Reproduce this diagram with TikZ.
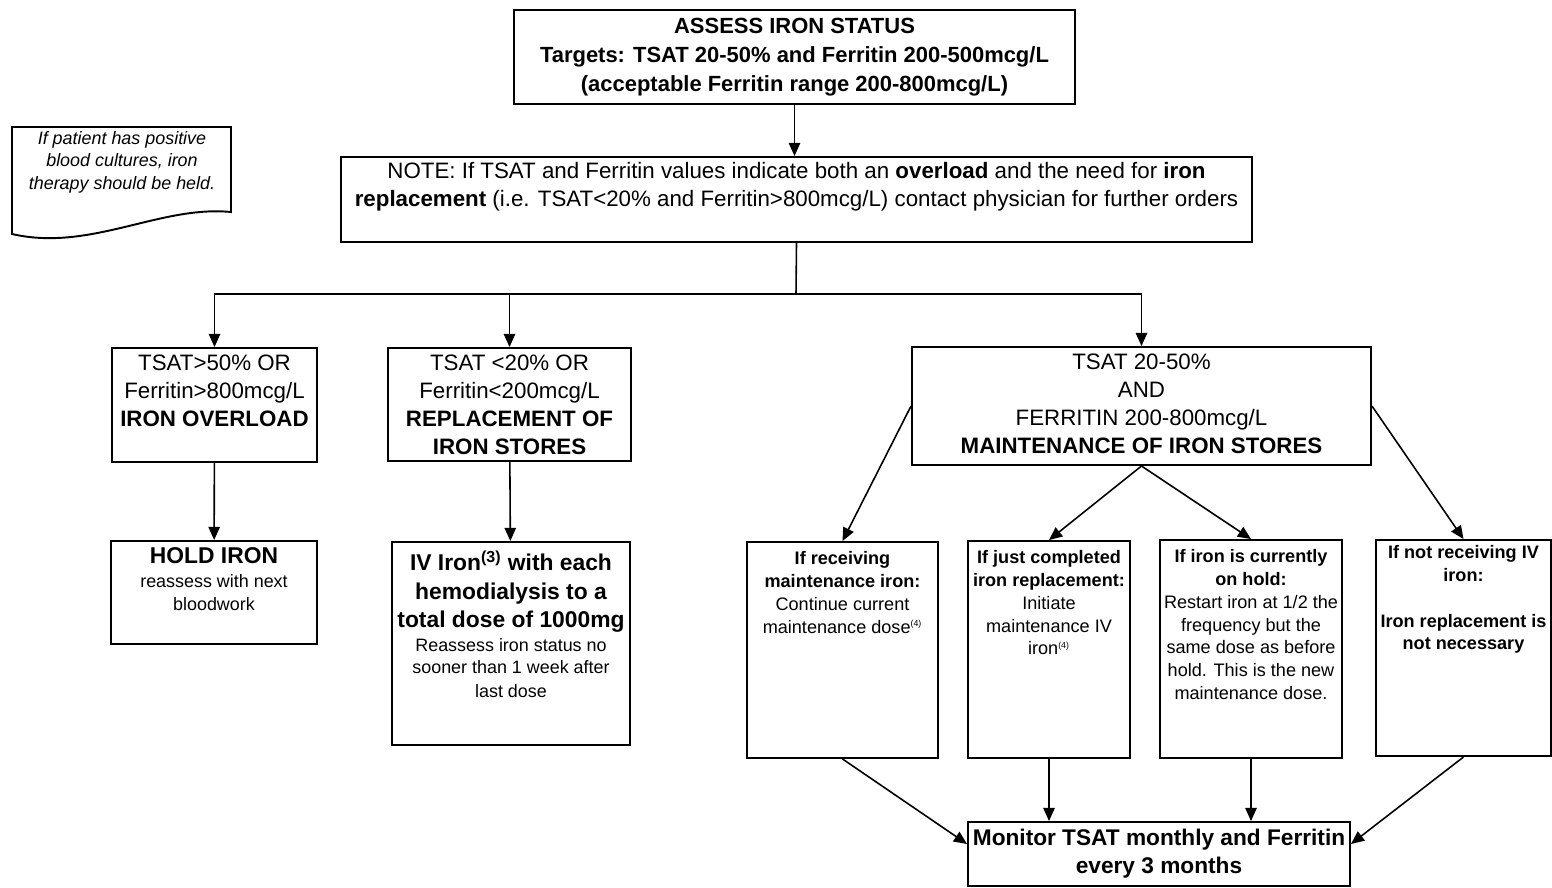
\documentclass[tikz,border=0pt]{standalone}
\usepackage{fontspec}
\setmainfont{Liberation Sans}
\usetikzlibrary{arrows.meta,positioning,fit,calc}
\newcommand\bigtxt{\fontsize{13}{17}\selectfont\bfseries}
\newcommand\smalltxt{\fontsize{10.2}{12.8}\selectfont}

\begin{document}
\begin{tikzpicture}[x=0.02cm,y=-0.02cm,
  box/.style={draw,line width=1.1pt,inner sep=0pt},
  txt/.style={inner sep=0pt,align=center},
  mainf/.style={font=\fontsize{12.7}{16}\selectfont},
  headf/.style={font=\fontsize{12.5}{16.5}\selectfont\bfseries},
  bigf/.style={font=\fontsize{12.9}{16}\selectfont\bfseries},
  optf/.style={font=\fontsize{10.3}{13}\selectfont},
  flow/.style={-{Triangle[length=7.5pt,width=6.5pt]},line width=0.9pt}]
  \useasboundingbox (0,0) rectangle (1552,887);

  % top of the chart
  \node[box,fit={(514,10) (1075,104)}] (assess) {};
  \node[txt,headf] (assessT) at (assess.center)
    {ASSESS IRON STATUS\\Targets: TSAT 20-50\% and Ferritin 200-500mcg/L\\(acceptable Ferritin range 200-800mcg/L)};
  \node[box,fit={(341,157) (1252,242)}] (note) {};
  \node[txt,mainf] (noteT) at ($(note.center)+(0,-13)$)
    {NOTE: If TSAT and Ferritin values indicate both an \textbf{overload} and the need for \textbf{iron}\\
     \textbf{replacement} (i.e. TSAT<20\% and Ferritin>800mcg/L) contact physician for further orders};
  \draw[flow] (assess.south) -- (assess.south |- note.north);

  % side remark
  \draw[line width=1.1pt] (12,127) -- (231,127) -- (231,212)
    .. controls (160,205) and (90,252) .. (12,234) -- cycle;
  \node[txt,font=\fontsize{10.2}{12.8}\selectfont\itshape] (cultT) at (122,162)
    {If patient has positive\\blood cultures, iron\\therapy should be held.};

  % three ranges
  \node[box,fit={(112,348) (317,462)}] (over) {};
  \node[txt,mainf] (overT) at ($(over.center)+(0,-14)$)
    {TSAT>50\% OR\\Ferritin>800mcg/L\\\textbf{IRON OVERLOAD}};
  \node[box,fit={(388,348) (631,461)}] (repl) {};
  \node[txt,mainf] (replT) at (repl.center)
    {TSAT <20\% OR\\Ferritin<200mcg/L\\\textbf{REPLACEMENT OF}\\\textbf{IRON STORES}};
  \node[box,fit={(912,347) (1371,465)}] (maint) {};
  \node[txt,mainf] (maintT) at ($(maint.center)+(0,-2)$)
    {TSAT 20-50\%\\AND\\FERRITIN 200-800mcg/L\\\textbf{MAINTENANCE OF IRON STORES}};
  \coordinate (hub) at (796,294);
  \draw[line width=0.9pt] (note.south) -- (hub);
  \draw[flow] (hub) -| (over.north);
  \draw[flow] (hub) -| (repl.north);
  \draw[flow] (hub) -| (maint.north);

  % actions
  \node[box,fit={(111,541) (317,644)}] (hold) {};
  \node[txt,anchor=north,font=\smalltxt] (holdT) at (214,547)
    {\bigtxt HOLD IRON\\[1pt]
     \smalltxt reassess with next\\\smalltxt bloodwork};
  \node[box,fit={(392,542) (630,745)}] (ivbox) {};
  \node[txt,anchor=north,font=\smalltxt] (ivT) at (511,551)
    {\bigtxt IV Iron\textsuperscript{(3)} with each\\[3.5pt]\bigtxt hemodialysis to a\\[3.5pt]\bigtxt total dose of 1000mg\\[0.5pt]
     \smalltxt Reassess iron status no\\[0pt]\smalltxt sooner than 1 week after\\[1pt]\smalltxt last dose};
  \draw[flow] (over) -- (hold);
  \draw[flow] (repl) -- (ivbox);

  % maintenance options
  \node[box,fit={(747,542) (938,758)}] (recv) {};
  \node[txt,optf,anchor=north] (recvT) at (recv.north) [yshift=-0.2cm]
    {\textbf{If receiving}\\\textbf{maintenance iron:}\\Continue current\\maintenance dose\textsuperscript{\tiny(4)}};
  \node[box,fit={(968,541) (1130,758)}] (done) {};
  \node[txt,optf,anchor=north] (doneT) at (done.north) [yshift=-0.2cm]
    {\textbf{If just completed}\\\textbf{iron replacement:}\\Initiate\\maintenance IV\\iron\textsuperscript{\tiny(4)}};
  \node[box,fit={(1160,540) (1342,758)}] (onhold) {};
  \node[txt,optf,anchor=north] (onholdT) at (onhold.north) [yshift=-0.2cm]
    {\textbf{If iron is currently}\\\textbf{on hold:}\\Restart iron at 1/2 the\\frequency but the\\same dose as before\\hold. This is the new\\maintenance dose.};
  \node[box,fit={(1376,540) (1551,756)}] (noiv) {};
  \node[txt,anchor=north,font=\fontsize{10.3}{13}\selectfont\bfseries] (noivT) at (noiv.north) [yshift=-0.12cm]
    {If not receiving IV\\iron:\\[13pt]Iron replacement is\\not necessary};
  \draw[flow] (maint.west) -- (recv.north);
  \draw[flow] (maint.south) -- (done.north);
  \draw[flow] (maint.south) -- (onhold.north);
  \draw[flow] (maint.east) -- (noiv.north);

  % monitoring
  \node[box,fit={(968,822) (1350,886)}] (monitor) {};
  \node[txt,bigf] (monitorT) at (monitor.center)
    {Monitor TSAT monthly and Ferritin\\every 3 months};
  \draw[flow] (recv.south) -- ($(monitor.west)+(0,-10)$);
  \draw[flow] (done.south) -- (done.south |- monitor.north);
  \draw[flow] (onhold.south) -- (onhold.south |- monitor.north);
  \draw[flow] (noiv.south) -- ($(monitor.east)+(0,-10)$);
\end{tikzpicture}
\end{document}
